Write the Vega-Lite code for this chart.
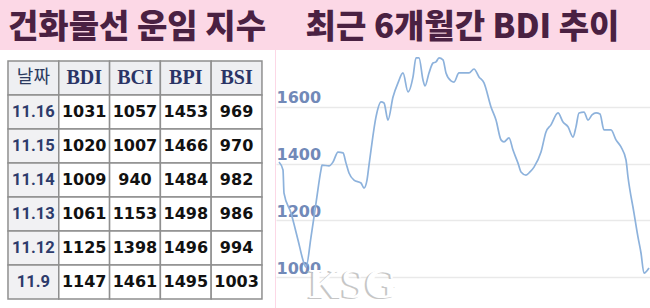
{
  "$schema": "https://vega.github.io/schema/vega-lite/v6.json",
  "autosize": "pad",
  "padding": {"left": 0, "top": 12, "right": 0, "bottom": 0},
  "background": "#fcd8e6",
  "spacing": 0,
  "config": {
    "view": {"fill": "#ffffff", "stroke": null},
    "title": {"font": "Noto Sans CJK KR", "fontSize": 33, "fontWeight": 900, "color": "#4a2142", "anchor": "start", "baseline": "alphabetic", "offset": 5}
  },
  "datasets": {
    "table": [
      {"date": "11.16", "BDI": 1031, "BCI": 1057, "BPI": 1453, "BSI": 969},
      {"date": "11.15", "BDI": 1020, "BCI": 1007, "BPI": 1466, "BSI": 970},
      {"date": "11.14", "BDI": 1009, "BCI": 940, "BPI": 1484, "BSI": 982},
      {"date": "11.13", "BDI": 1061, "BCI": 1153, "BPI": 1498, "BSI": 986},
      {"date": "11.12", "BDI": 1125, "BCI": 1398, "BPI": 1496, "BSI": 994},
      {"date": "11.9", "BDI": 1147, "BCI": 1461, "BPI": 1495, "BSI": 1003}
    ],
    "header": [{"col": "날짜"}, {"col": "BDI"}, {"col": "BCI"}, {"col": "BPI"}, {"col": "BSI"}],
    "watermark": [{"label": "KSG"}],
    "bdi": [
      {"day": 0, "bdi": 1406}, {"day": 2, "bdi": 1378}, {"day": 2.5, "bdi": 1296}, {"day": 6, "bdi": 1226},
      {"day": 9.5, "bdi": 1131}, {"day": 12.5, "bdi": 1049}, {"day": 13.5, "bdi": 1035}, {"day": 16, "bdi": 1141},
      {"day": 18.5, "bdi": 1261}, {"day": 21, "bdi": 1378}, {"day": 21.5, "bdi": 1395}, {"day": 25, "bdi": 1392},
      {"day": 27, "bdi": 1406}, {"day": 29.5, "bdi": 1441}, {"day": 32, "bdi": 1438}, {"day": 33.5, "bdi": 1402},
      {"day": 35, "bdi": 1367}, {"day": 37.5, "bdi": 1342}, {"day": 41, "bdi": 1332}, {"day": 42.5, "bdi": 1314},
      {"day": 44, "bdi": 1342}, {"day": 45, "bdi": 1395}, {"day": 46, "bdi": 1448}, {"day": 48.5, "bdi": 1565},
      {"day": 51, "bdi": 1618}, {"day": 52.5, "bdi": 1614}, {"day": 54.5, "bdi": 1554}, {"day": 57, "bdi": 1635},
      {"day": 59.5, "bdi": 1685}, {"day": 62, "bdi": 1720}, {"day": 64.5, "bdi": 1653}, {"day": 67, "bdi": 1706},
      {"day": 68.5, "bdi": 1773}, {"day": 70, "bdi": 1773}, {"day": 72, "bdi": 1695}, {"day": 73, "bdi": 1674},
      {"day": 75, "bdi": 1720}, {"day": 77, "bdi": 1755}, {"day": 78.5, "bdi": 1759}, {"day": 80, "bdi": 1773},
      {"day": 82, "bdi": 1766}, {"day": 83.5, "bdi": 1720}, {"day": 86, "bdi": 1692}, {"day": 87.5, "bdi": 1688},
      {"day": 90, "bdi": 1720}, {"day": 92.5, "bdi": 1720}, {"day": 95, "bdi": 1720}, {"day": 97.5, "bdi": 1734},
      {"day": 100, "bdi": 1706}, {"day": 102.5, "bdi": 1685}, {"day": 106, "bdi": 1600}, {"day": 108.5, "bdi": 1554},
      {"day": 111, "bdi": 1484}, {"day": 112.5, "bdi": 1477}, {"day": 115, "bdi": 1491}, {"day": 117, "bdi": 1448},
      {"day": 119.5, "bdi": 1402}, {"day": 121, "bdi": 1371}, {"day": 123.5, "bdi": 1360}, {"day": 125.5, "bdi": 1371},
      {"day": 127.5, "bdi": 1388}, {"day": 131, "bdi": 1441}, {"day": 133.5, "bdi": 1512}, {"day": 136, "bdi": 1537},
      {"day": 139.5, "bdi": 1579}, {"day": 142, "bdi": 1547}, {"day": 144.5, "bdi": 1530}, {"day": 147, "bdi": 1494},
      {"day": 148.5, "bdi": 1530}, {"day": 150, "bdi": 1579}, {"day": 152.5, "bdi": 1582}, {"day": 154.5, "bdi": 1554},
      {"day": 156.5, "bdi": 1572}, {"day": 158.5, "bdi": 1579}, {"day": 160.5, "bdi": 1575}, {"day": 162.5, "bdi": 1519},
      {"day": 166, "bdi": 1519}, {"day": 168.5, "bdi": 1484}, {"day": 171, "bdi": 1459}, {"day": 173.5, "bdi": 1413},
      {"day": 174.5, "bdi": 1353}, {"day": 177.5, "bdi": 1226}, {"day": 179.5, "bdi": 1141}, {"day": 181, "bdi": 1085},
      {"day": 182.5, "bdi": 1014}, {"day": 185, "bdi": 1032}
    ]
  },
  "hconcat": [
    {
      "width": 275,
      "height": 258,
      "title": {"text": "건화물선 운임 지수", "dx": 8},
      "layer": [
        {
          "data": {"name": "header"},
          "mark": {"type": "rect", "fill": "#eeeff2", "stroke": "#8f8f8f", "strokeWidth": 1.5},
          "encoding": {
            "x": {"field": "col", "type": "nominal", "axis": null,
                  "scale": {"domain": ["날짜", "BDI", "BCI", "BPI", "BSI"], "paddingInner": 0, "paddingOuter": 0.207, "align": 0.38}},
            "y": {"datum": "날짜", "type": "nominal", "axis": null,
                  "scale": {"domain": ["날짜", "11.16", "11.15", "11.14", "11.13", "11.12", "11.9"], "paddingInner": 0, "paddingOuter": 0.294, "align": 0.55}}
          }
        },
        {
          "data": {"name": "table"},
          "mark": {"type": "rect", "fill": "#f1f1f3", "stroke": "#8f8f8f", "strokeWidth": 1.5},
          "encoding": {
            "x": {"datum": "날짜", "type": "nominal"},
            "y": {"field": "date", "type": "nominal"}
          }
        },
        {
          "data": {"name": "table"},
          "transform": [{"fold": ["BDI", "BCI", "BPI", "BSI"], "as": ["col", "val"]}],
          "mark": {"type": "rect", "fill": "#ffffff", "stroke": "#8f8f8f", "strokeWidth": 1.5},
          "encoding": {
            "x": {"field": "col", "type": "nominal"},
            "y": {"field": "date", "type": "nominal"}
          }
        },
        {
          "data": {"name": "header"},
          "transform": [{"filter": {"field": "col", "equal": "날짜"}}],
          "mark": {"type": "text", "font": "Noto Sans CJK KR", "fontSize": 18, "color": "#2b3a5e"},
          "encoding": {
            "x": {"field": "col", "type": "nominal"},
            "y": {"datum": "날짜", "type": "nominal"},
            "text": {"field": "col"}
          }
        },
        {
          "data": {"name": "header"},
          "transform": [{"filter": {"field": "col", "oneOf": ["BDI", "BCI", "BPI", "BSI"]}}],
          "mark": {"type": "text", "font": "Liberation Serif", "fontSize": 20, "fontWeight": "bold", "color": "#2a3466"},
          "encoding": {
            "x": {"field": "col", "type": "nominal"},
            "y": {"datum": "날짜", "type": "nominal"},
            "text": {"field": "col"}
          }
        },
        {
          "data": {"name": "table"},
          "mark": {"type": "text", "font": "Roboto", "fontSize": 16.5, "fontWeight": "bold", "color": "#2d3b6b"},
          "encoding": {
            "x": {"datum": "날짜", "type": "nominal"},
            "y": {"field": "date", "type": "nominal"},
            "text": {"field": "date"}
          }
        },
        {
          "data": {"name": "table"},
          "transform": [{"fold": ["BDI", "BCI", "BPI", "BSI"], "as": ["col", "val"]}],
          "mark": {"type": "text", "font": "DejaVu Sans", "fontSize": 16, "fontWeight": "bold", "color": "#111111"},
          "encoding": {
            "x": {"field": "col", "type": "nominal"},
            "y": {"field": "date", "type": "nominal"},
            "text": {"field": "val", "type": "quantitative", "format": "d"}
          }
        }
      ]
    },
    {
      "width": 375,
      "height": 258,
      "title": {"text": "최근 6개월간 BDI 추이", "dx": 30},
      "layer": [
        {
          "data": {"name": "bdi"},
          "mark": {"type": "line", "color": "#8db2dc", "strokeWidth": 1.7, "interpolate": "monotone"},
          "encoding": {
            "x": {"field": "day", "type": "quantitative", "axis": null,
                  "scale": {"domain": [-1.5, 186], "nice": false, "zero": false}},
            "y": {"field": "bdi", "type": "quantitative",
                  "scale": {"domain": [891, 1801], "nice": false, "zero": false},
                  "axis": {"values": [1000, 1200, 1400, 1600], "format": "d", "title": null, "domain": false, "ticks": false, "tickSize": 0,
                           "labelAlign": "left", "labelPadding": 0, "labelBaseline": "alphabetic", "labelOffset": -4,
                           "labelFont": "DejaVu Sans", "labelFontWeight": "bold", "labelFontSize": 16, "labelColor": "#7189b8",
                           "labelFlush": false, "grid": true, "gridColor": "#e9e9e9", "gridWidth": 1.5}}
          }
        },
        {
          "data": {"name": "watermark"},
          "mark": {"type": "text", "font": "Liberation Serif", "fontSize": 42, "fontWeight": "bold", "color": "#b9b9b9", "opacity": 0.8, "baseline": "alphabetic", "dx": -2, "dy": 1},
          "encoding": {
            "x": {"datum": 37, "type": "quantitative"},
            "y": {"datum": 926, "type": "quantitative"},
            "text": {"field": "label"}
          }
        },
        {
          "data": {"name": "watermark"},
          "mark": {"type": "text", "font": "Liberation Serif", "fontSize": 42, "fontWeight": "bold", "color": "#ffffff", "baseline": "alphabetic"},
          "encoding": {
            "x": {"datum": 37, "type": "quantitative"},
            "y": {"datum": 926, "type": "quantitative"},
            "text": {"field": "label"}
          }
        }
      ]
    }
  ]
}
